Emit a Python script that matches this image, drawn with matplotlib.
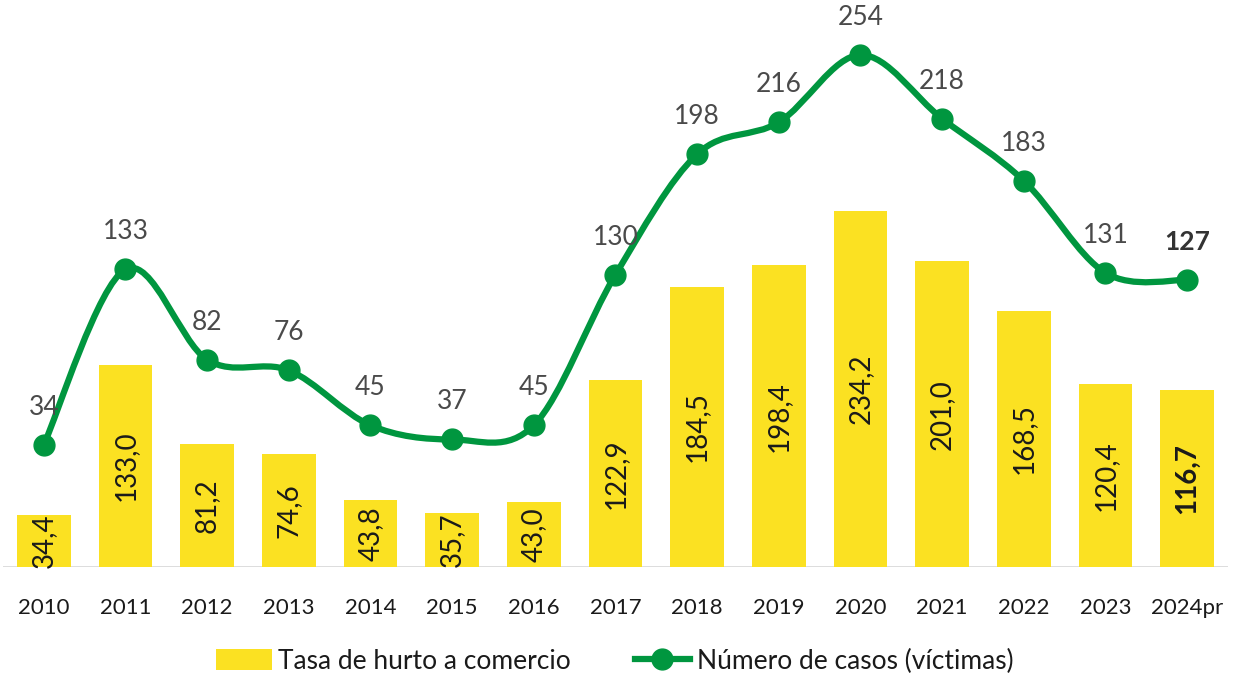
import numpy as np
import matplotlib
matplotlib.use("Agg")
import matplotlib.pyplot as plt
from matplotlib.path import Path
from matplotlib.patches import PathPatch
from matplotlib.lines import Line2D
from matplotlib.patches import Patch

plt.rcParams["font.family"] = ["Lato", "DejaVu Sans"]

# ------------------------------------------------------------
# Data
# ------------------------------------------------------------
years = ["2010", "2011", "2012", "2013", "2014", "2015", "2016", "2017",
         "2018", "2019", "2020", "2021", "2022", "2023", "2024pr"]
tasa = [34.4, 133.0, 81.2, 74.6, 43.8, 35.7, 43.0, 122.9,
        184.5, 198.4, 234.2, 201.0, 168.5, 120.4, 116.7]
casos = [34, 133, 82, 76, 45, 37, 45, 130, 198, 216, 254, 218, 183, 131, 127]

yellow = "#FBE122"
green = "#00963F"
label_gray = "#4a4a4a"
text_dark = "#1a1a1a"

# ------------------------------------------------------------
# Figure
# ------------------------------------------------------------
fig = plt.figure(figsize=(12.42, 6.76), dpi=100)
ax = fig.add_axes([0.0024, 0.1612, 0.9863, 0.8388])
ax2 = ax.twinx()

x = np.arange(len(years))

# bars
ax.bar(x, tasa, width=0.66, color=yellow, zorder=2)
ax.set_xlim(-0.5, len(years) - 0.5)
ax.set_ylim(0, 373)
for i, v in enumerate(tasa):
    last = i == len(tasa) - 1
    ax.text(i, v / 2, f"{v:.1f}".replace(".", ","), rotation=90,
            ha="center", va="center", fontsize=20, color=text_dark,
            fontweight="bold" if last else "normal", zorder=3)

# smoothed line (Catmull-Rom as cubic Bezier segments)
pts = np.column_stack([x, casos]).astype(float)
verts = [pts[0]]
codes = [Path.MOVETO]
n = len(pts)
for i in range(n - 1):
    p0 = pts[i - 1] if i > 0 else pts[i]
    p1 = pts[i]
    p2 = pts[i + 1]
    p3 = pts[i + 2] if i + 2 < n else pts[i + 1]
    c1 = p1 + (p2 - p0) / 6
    c2 = p2 - (p3 - p1) / 6
    verts += [c1, c2, p2]
    codes += [Path.CURVE4] * 3
ax2.add_patch(PathPatch(Path(verts, codes), facecolor="none",
                        edgecolor=green, lw=4.5, zorder=4,
                        capstyle="round", joinstyle="round"))
ax2.plot(x, casos, "o", color=green, markersize=15, zorder=5)
ax2.set_ylim(-35, 285)

for i, v in enumerate(casos):
    last = i == len(casos) - 1
    ax2.annotate(str(v), (i, v), xytext=(0, 27), textcoords="offset points",
                 ha="center", va="center", fontsize=19,
                 color="#333333" if last else label_gray,
                 fontweight="bold" if last else "normal", zorder=6)

# axes styling
for a in (ax, ax2):
    for s in a.spines.values():
        s.set_visible(False)
    a.set_yticks([])
ax.axhline(0, color="#D9D9D9", lw=2, zorder=1)
ax.set_xticks(x)
ax.set_xticklabels(years, fontsize=16, color=text_dark)
ax.tick_params(axis="x", length=0, pad=22)

# legend
handles = [Patch(facecolor=yellow, edgecolor="none"),
           Line2D([0], [0], color=green, lw=4.5, marker="o", markersize=15)]
fig.legend(handles, ["Tasa de hurto a comercio", "Número de casos (víctimas)"],
           loc="center", bbox_to_anchor=(0.495, 0.022), ncol=2, frameon=False,
           fontsize=19, handlelength=2.1, handleheight=0.8, handletextpad=0.25,
           columnspacing=2.4, labelcolor=text_dark)

fig.savefig("out.png", dpi=100)
